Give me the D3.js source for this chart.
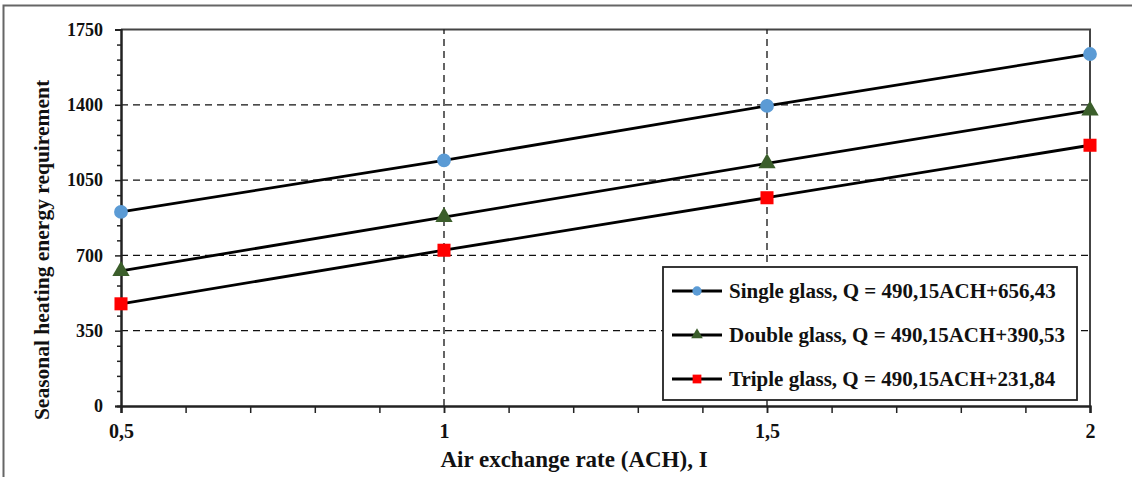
<!DOCTYPE html>
<html>
<head>
<meta charset="utf-8">
<script src="https://cdn.jsdelivr.net/npm/d3@7"></script>
<style>
  body { margin: 0; background: #fff; }
  text { font-family: "Liberation Serif", "Times New Roman", serif; font-weight: bold; fill: #111; }
</style>
</head>
<body>
<svg id="chart"></svg>
<script>
// data
var achValues = [0.5, 1, 1.5, 2];
var xTickLabels = ["0,5", "1", "1,5", "2"];
var yTicks = [0, 350, 700, 1050, 1400, 1750];
var singleGlass = [902, 1142, 1395, 1636];
var doubleGlass = [628, 878, 1128, 1373];
var tripleGlass = [475, 724, 968, 1212];
var seriesNames = [
    "Single glass, Q = 490,15ACH+656,43",
    "Double glass, Q = 490,15ACH+390,53",
    "Triple glass, Q = 490,15ACH+231,84"
];

var width = 1132, height = 477;
var margin = {left: 121, right: 42, top: 29.5, bottom: 71};

var svg = d3.select("#chart")
    .attr("width", width)
    .attr("height", height);

// outer frame (cut off on right and bottom in the original)
svg.append("rect")
    .attr("x", 3.5).attr("y", 5.5)
    .attr("width", width + 10).attr("height", height + 10)
    .attr("fill", "none").attr("stroke", "#666").attr("stroke-width", 2);

var x = d3.scaleLinear().domain([0.5, 2]).range([margin.left, width - margin.right]);
var y = d3.scaleLinear().domain([0, 1750]).range([height - margin.bottom, margin.top]);

// plot frame top + right
svg.append("path")
    .attr("d", "M" + x(0.5) + "," + y(1750) + "H" + x(2) + "V" + y(0))
    .attr("fill", "none").attr("stroke", "#444").attr("stroke-width", 2);

// dashed grid
svg.append("g").selectAll("line")
    .data(yTicks.filter(d => d > 0 && d < 1750))
    .enter().append("line")
    .attr("x1", x(0.5)).attr("x2", x(2))
    .attr("y1", d => y(d)).attr("y2", d => y(d))
    .attr("stroke", "#111").attr("stroke-width", 1.3)
    .attr("stroke-dasharray", "7,5");

svg.append("g").selectAll("line")
    .data(achValues.filter(d => d > 0.5 && d < 2))
    .enter().append("line")
    .attr("x1", d => x(d)).attr("x2", d => x(d))
    .attr("y1", y(0)).attr("y2", y(1750))
    .attr("stroke", "#111").attr("stroke-width", 1.3)
    .attr("stroke-dasharray", "7,5");

// axes
var xAxis = d3.axisBottom(x)
    .tickValues(achValues)
    .tickFormat((d, i) => xTickLabels[i])
    .tickSize(7).tickPadding(11);
var xMinor = d3.axisBottom(x)
    .tickValues(d3.range(0.6, 2, 0.1))
    .tickFormat("").tickSize(7);

var gx = svg.append("g")
    .attr("transform", "translate(0," + y(0) + ")")
    .call(xAxis);
svg.append("g")
    .attr("transform", "translate(0," + y(0) + ")")
    .call(xMinor);
gx.selectAll("text").style("font-size", "20px").attr("fill", "#111");

var yAxis = d3.axisLeft(y)
    .tickValues(yTicks)
    .tickFormat(d3.format("d"))
    .tickSize(6).tickPadding(12);
var yMinor = d3.axisLeft(y)
    .tickValues(d3.range(70, 1750, 70).filter(d => d % 350 !== 0))
    .tickFormat("").tickSize(4);

var gy = svg.append("g")
    .attr("transform", "translate(" + x(0.5) + ",0)")
    .call(yAxis);
svg.append("g")
    .attr("transform", "translate(" + x(0.5) + ",0)")
    .call(yMinor);
gy.selectAll("text").style("font-size", "18px").attr("fill", "#111");

svg.selectAll(".domain").attr("stroke", "#222").attr("stroke-width", 2);
svg.selectAll(".tick line").attr("stroke", "#222").attr("stroke-width", 1.5);

// axis titles
svg.append("text")
    .attr("x", 574)
    .attr("y", 467)
    .attr("text-anchor", "middle")
    .style("font-size", "23px")
    .text("Air exchange rate (ACH), I");

svg.append("text")
    .attr("transform", "translate(49,250) rotate(-90)")
    .attr("text-anchor", "middle")
    .style("font-size", "21.5px")
    .text("Seasonal heating energy requirement");

// series
var series = [
    {name: seriesNames[0], values: singleGlass, color: "#5b9bd5", shape: d3.symbolCircle, size: 150},
    {name: seriesNames[1], values: doubleGlass, color: "#3b5e2b", shape: d3.symbolTriangle, size: 130},
    {name: seriesNames[2], values: tripleGlass, color: "#ff0000", shape: d3.symbolSquare, size: 170}
];

var line = d3.line()
    .x((d, i) => x(achValues[i]))
    .y(d => y(d));

series.forEach(function(s) {
    svg.append("path")
        .datum(s.values)
        .attr("d", line)
        .attr("fill", "none")
        .attr("stroke", "#000")
        .attr("stroke-width", 2.8);
    svg.append("g").selectAll("path")
        .data(s.values)
        .enter().append("path")
        .attr("transform", (d, i) => "translate(" + x(achValues[i]) + "," + y(d) + ")")
        .attr("d", d3.symbol().type(s.shape).size(s.size))
        .attr("fill", s.color);
});

// legend
var legend = svg.append("g").attr("transform", "translate(663,267)");
legend.append("rect")
    .attr("width", 414).attr("height", 133)
    .attr("fill", "#fff").attr("stroke", "#222").attr("stroke-width", 1.8);

series.forEach(function(s, i) {
    var row = legend.append("g").attr("transform", "translate(0," + (24 + i * 44) + ")");
    row.append("line")
        .attr("x1", 9).attr("x2", 59)
        .attr("stroke", "#000").attr("stroke-width", 2.8);
    row.append("path")
        .attr("transform", "translate(34,0)")
        .attr("d", d3.symbol().type(s.shape).size(s.size * 0.45))
        .attr("fill", s.color);
    row.append("text")
        .attr("x", 66).attr("y", 7)
        .style("font-size", "21px")
        .text(s.name);
});
</script>
</body>
</html>
